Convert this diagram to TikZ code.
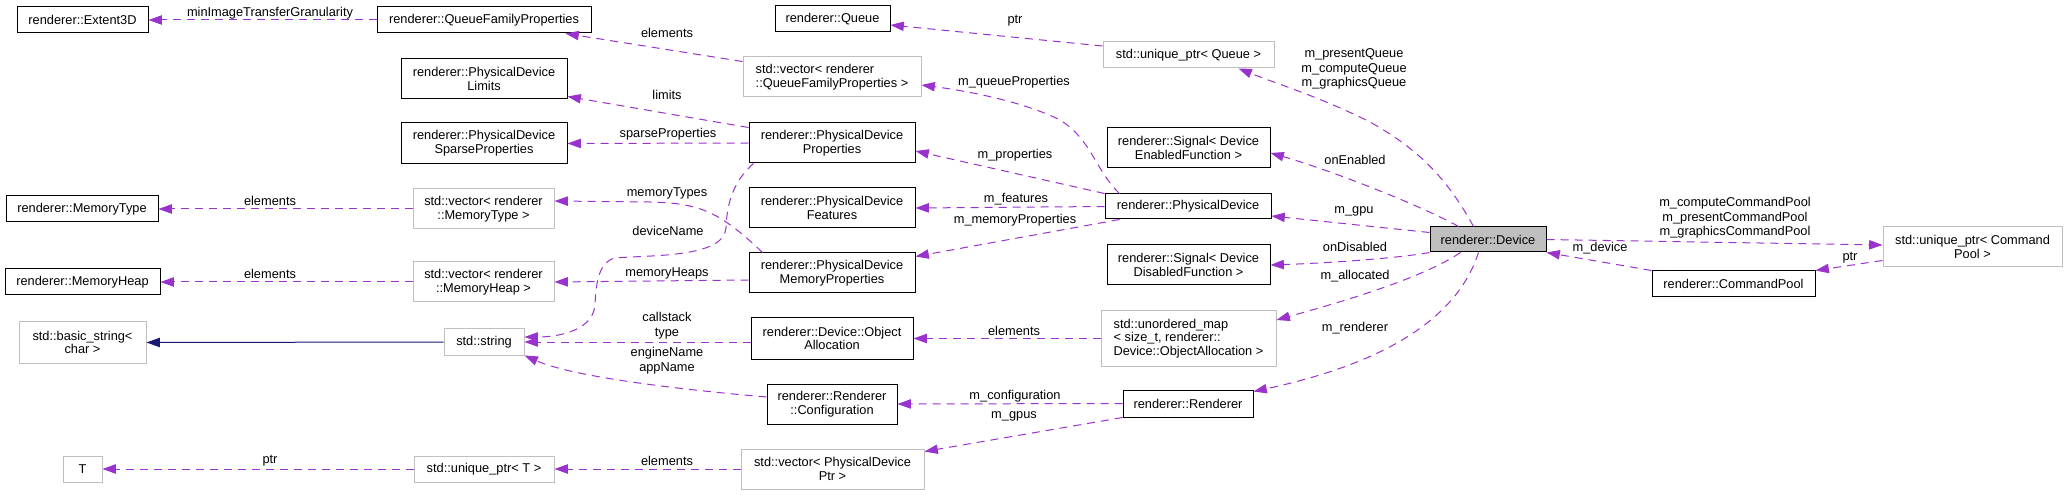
\documentclass[tikz,border=0pt]{standalone}
\usepackage{fontspec}
\setmainfont{Liberation Sans}
\usetikzlibrary{arrows.meta,calc}
\definecolor{edgec}{HTML}{9A32CD}
\definecolor{inhc}{HTML}{191970}
\definecolor{grayb}{HTML}{BFBFBF}
\definecolor{devfill}{HTML}{BFBFBF}
\newcommand\bx[7]{\node[#1, minimum width={(#5-#3)*0.75pt}, minimum height={(#6-#4)*0.75pt}] (#2) at ({(#3+#5)/2},{(#4+#6)/2}) {#7};}
\begin{document}
\begin{tikzpicture}[x=0.75pt,y=-0.75pt,
  font=\fontsize{9.6}{10.3}\selectfont,
  cls/.style={draw=black, line width=0.75pt, fill=white, inner sep=0pt, align=center, text=black},
  dev/.style={cls, fill=devfill},
  stdb/.style={draw=grayb, line width=0.75pt, fill=white, inner sep=0pt, align=center, text=black},
  stdl/.style={stdb, align=left},
  edge/.style={draw=edgec, line width=0.75pt, dash pattern=on 6pt off 4.5pt, -{Triangle[length=10pt,width=7pt]}},
  inh/.style={draw=inhc, line width=0.75pt, -{Triangle[length=10pt,width=7pt]}},
  lbl/.style={inner sep=0pt, align=center, text=black, font=\fontsize{9.6}{11}\selectfont}]
\fill[white] (0,0) rectangle (2067,495);
\useasboundingbox (0,0) rectangle (2067,495);
% nodes
\bx{cls}{ext}{17}{7}{148}{33}{renderer::Extent3D}
\bx{cls}{qfp}{377}{7}{591}{33}{renderer::QueueFamilyProperties}
\bx{cls}{queue}{775}{6}{890}{32}{renderer::Queue}
\bx{stdb}{uq}{1103}{42}{1274}{68}{std::unique\_ptr< Queue >}
\bx{stdl}{vqfp}{743}{57}{921}{97}{std::vector< renderer\\::QueueFamilyProperties >}
\bx{cls}{lim}{401}{59}{567}{99}{renderer::PhysicalDevice\\Limits}
\bx{cls}{sparse}{401}{123}{567}{164}{renderer::PhysicalDevice\\SparseProperties}
\bx{cls}{pdp}{749}{123}{915}{163}{renderer::PhysicalDevice\\Properties}
\bx{cls}{sigen}{1107}{128}{1270}{168}{renderer::Signal< Device\\EnabledFunction >}
\bx{cls}{mtype}{6}{196}{158}{222}{renderer::MemoryType}
\bx{stdb}{vmt}{413}{189}{554}{229}{std::vector< renderer\\::MemoryType >}
\bx{cls}{pdf}{749}{188}{915}{228}{renderer::PhysicalDevice\\Features}
\bx{cls}{pd}{1105}{194}{1271}{219}{renderer::PhysicalDevice}
\bx{dev}{device}{1430}{227}{1546}{252}{renderer::Device}
\bx{stdb}{ucp}{1883}{227}{2062}{267}{std::unique\_ptr< Command\\Pool >}
\bx{cls}{cpool}{1652}{271}{1815}{297}{renderer::CommandPool}
\bx{cls}{mheap}{5}{269}{160}{295}{renderer::MemoryHeap}
\bx{stdb}{vmh}{413}{262}{554}{302}{std::vector< renderer\\::MemoryHeap >}
\bx{cls}{pdmp}{749}{253}{915}{293}{renderer::PhysicalDevice\\MemoryProperties}
\bx{cls}{sigdis}{1107}{245}{1270}{285}{renderer::Signal< Device\\DisabledFunction >}
\bx{stdb}{bstr}{19}{322}{146}{363}{std::basic\_string<\\char >}
\bx{stdb}{str}{444}{329}{524}{355}{std::string}
\bx{cls}{oalloc}{751}{318}{913}{359}{renderer::Device::Object\\Allocation}
\bx{stdl}{umap}{1101}{311}{1276}{366}{std::unordered\_map\\< size\_t, renderer::\\Device::ObjectAllocation >}
\bx{cls}{rconf}{767}{384}{897}{424}{renderer::Renderer\\::Configuration}
\bx{cls}{rend}{1123}{390}{1253}{417}{renderer::Renderer}
\bx{stdb}{tnode}{63}{456}{102}{482}{T}
\bx{stdb}{ut}{414}{456}{554}{482}{std::unique\_ptr< T >}
\bx{stdb}{vpd}{741}{449}{924}{489}{std::vector< PhysicalDevice\\Ptr >}
% edges
\draw[edge] (qfp.west) -- (ext.east);
\draw[edge] ($(vqfp.north west)+(0,5)$) -- ($(qfp.south east)+(-26,0)$);
\draw[edge] ($(uq.west)+(0,-9)$) -- ($(queue.east)+(0,6)$);
\draw[edge] ($(pdp.north west)+(0,5)$) -- ($(lim.south east)+(0,-3)$);
\draw[edge] (pdp.west) -- (sparse.east);
\draw[edge] ($(pd.north west)+(15,0)$) .. controls (1095,170) and (1092,140) .. (1060,120) .. controls (1020,100) and (960,90) .. ($(vqfp.east)+(0,8)$);
\draw[edge] (pd.north west) -- ($(pdp.east)+(0,8)$);
\draw[edge] (pd.west) -- (pdf.east);
\draw[edge] ($(pd.south west)+(15,0)$) -- ($(pdmp.north east)+(0,4)$);
\draw[edge] (vmt.west) -- (mtype.east);
\draw[edge] ($(pdmp.north west)+(14,0)$) .. controls (720,212) and (700,203) .. (650,202) -- ($(vmt.east)+(0,-8)$);
\draw[edge] ($(pdp.south west)+(5,0)$) .. controls (735,180) and (727,200) .. (726,228) .. controls (724,258) and (650,255) .. (615,258) .. controls (598,262) and (596,285) .. (595,305) .. controls (593,330) and (560,337) .. ($(str.east)+(0,-5)$);
\draw[edge] ($(pdmp.west)+(0,7)$) -- (vmh.east);
\draw[edge] (vmh.west) -- (mheap.east);
\draw[inh] (str.west) -- (bstr.east);
\draw[edge] ($(oalloc.west)+(0,3.5)$) -- (str.east);
\draw[edge] ($(rconf.west)+(0,-7)$) .. controls (720,393) and (580,380) .. (str.south east);
\draw[edge] (umap.west) -- (oalloc.east);
\draw[edge] (rend.west) -- (rconf.east);
\draw[edge] (rend.south west) -- ($(vpd.north east)+(0,3)$);
\draw[edge] (vpd.west) -- (ut.east);
\draw[edge] (ut.west) -- (tnode.east);
\draw[edge] ($(device.north west)+(44,0)$) .. controls (1448,180) and (1420,150) .. (1370,122) .. controls (1320,97) and (1280,85) .. ($(uq.south east)+(-36,0)$);
\draw[edge] ($(device.north west)+(29,0)$) .. controls (1420,205) and (1330,170) .. ($(sigen.east)+(0,5)$);
\draw[edge] ($(device.north west)+(0,6)$) -- ($(pd.east)+(0,9.5)$);
\draw[edge] (device.south west) .. controls (1400,258) and (1330,263) .. (sigdis.east);
\draw[edge] ($(device.south west)+(31,0)$) .. controls (1420,280) and (1330,305) .. ($(umap.east)+(0,-18.5)$);
\draw[edge] ($(device.south west)+(49,0)$) .. controls (1460,310) and (1400,360) .. ($(rend.north east)+(0,2)$);
\draw[edge] (device.east) -- ($(ucp.west)+(0,-2)$);
\draw[edge] (cpool.north west) -- (device.south east);
\draw[edge] ($(ucp.south west)+(0,-7)$) -- (cpool.north east);
% labels
\node[lbl] (l1) at (270,13) {minImageTransferGranularity};
\node[lbl] (l2) at (667,33) {elements};
\node[lbl] (l3) at (1015,21) {ptr};
\node[lbl] (l4) at (667,95) {limits};
\node[lbl] (l5) at (668,134) {sparseProperties};
\node[lbl] (l6) at (1014,82) {m\_queueProperties};
\node[lbl] (l7) at (1015,155) {m\_properties};
\node[lbl] (l8) at (1016,199) {m\_features};
\node[lbl] (l9) at (1015,220) {m\_memoryProperties};
\node[lbl] (l10) at (270,201) {elements};
\node[lbl] (l11) at (667,193) {memoryTypes};
\node[lbl] (l12) at (668,231) {deviceName};
\node[lbl] (l13) at (667,273) {memoryHeaps};
\node[lbl] (l14) at (270,274) {elements};
\node[lbl] (l15) at (667,325.5) {callstack\\type};
\node[lbl] (l16) at (667,360.5) {engineName\\appName};
\node[lbl] (l17) at (1014,331) {elements};
\node[lbl] (l18) at (1015,396) {m\_configuration};
\node[lbl] (l19) at (1014,416) {m\_gpus};
\node[lbl] (l20) at (667,461) {elements};
\node[lbl] (l21) at (270,461) {ptr};
\node[lbl] (l22) at (1354,69) {m\_presentQueue\\m\_computeQueue\\m\_graphicsQueue};
\node[lbl] (l23) at (1355,160) {onEnabled};
\node[lbl] (l24) at (1354,211) {m\_gpu};
\node[lbl] (l25) at (1355,247) {onDisabled};
\node[lbl] (l26) at (1355,276) {m\_allocated};
\node[lbl] (l27) at (1355,328) {m\_renderer};
\node[lbl] (l28) at (1735,218) {m\_computeCommandPool\\m\_presentCommandPool\\m\_graphicsCommandPool};
\node[lbl] (l29) at (1600,248) {m\_device};
\node[lbl] (l30) at (1850,258) {ptr};
\end{tikzpicture}
\end{document}
